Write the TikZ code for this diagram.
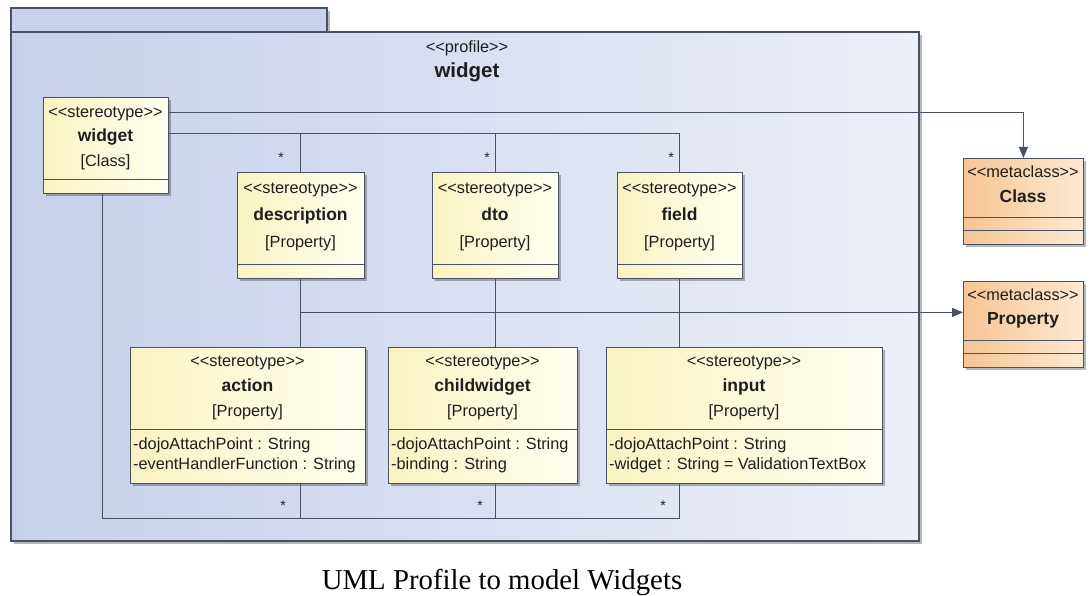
\documentclass[tikz,border=0pt]{standalone}
\usepackage{fontspec}
\setmainfont{Liberation Sans}
\newfontfamily\capfont{Liberation Serif}
\usetikzlibrary{arrows.meta,shadows}
\definecolor{pkgA}{HTML}{C7D0EA}
\definecolor{pkgB}{HTML}{ECEFF7}
\definecolor{tabc}{HTML}{CAD2ED}
\definecolor{edge}{HTML}{4A5162}
\definecolor{stA}{HTML}{F9F3C2}
\definecolor{stB}{HTML}{FFFFF0}
\definecolor{mcA}{HTML}{F6C594}
\definecolor{mcB}{HTML}{FDE9D2}
\definecolor{txt}{HTML}{1E1E1E}
\newcommand\gq[1]{<\kern0pt<#1>\kern0pt>}
\begin{document}
\begin{tikzpicture}[x=1pt,y=-1pt,
  box/.style={draw=edge, line width=0.8pt, anchor=north west, inner sep=0pt,
    general shadow={shadow xshift=3pt, shadow yshift=-3pt, fill=black, opacity=0.28}},
  stbox/.style={box, left color=stA, right color=stB},
  mcbox/.style={box, left color=mcA, right color=mcB},
  sepl/.style={draw=edge, line width=0.7pt},
  conn/.style={draw=edge, line width=1pt},
  arr/.style={conn, -{Triangle[length=11pt,width=9pt]}},
  st/.style={font=\fontsize{16.3}{19}\selectfont, text=txt, inner sep=0pt, text height=11.5pt, text depth=3pt},
  nm/.style={font=\fontsize{17.5}{21}\selectfont\bfseries, text=txt, inner sep=0pt, text height=12.5pt, text depth=3pt},
  attrtext/.style={st, anchor=west},
  star/.style={font=\fontsize{14}{15}\selectfont, text=txt, inner sep=0pt}
]
\useasboundingbox (0,0) rectangle (1090,596);
% package
\fill[black, opacity=0.28] (14,35) rectangle (922,544);
\fill[black, opacity=0.28] (327,11) rectangle (330,32);
\draw[draw=edge, line width=1.2pt, fill=tabc] (11,8) rectangle (327,32);
\draw[draw=edge, line width=1.2pt, left color=pkgA, right color=pkgB] (11,32) rectangle (919,541);
\node[st] (ptst) at (467,48) {\gq{profile}};
\node[nm, font=\fontsize{20.5}{24}\selectfont\bfseries] (ptnm) at (467,73) {widget};

% stereotype boxes
\node[stbox, minimum width=125pt, minimum height=96pt] (wid) at (43,97) {};
\draw[sepl] (43,179) -- (168,179);
\node[st] (wid1) at (105.5,113) {\gq{stereotype}};
\node[nm] (wid2) at (105.5,137) {widget};
\node[st] (wid3) at (105.5,162) {[Class]};

\node[stbox, minimum width=127pt, minimum height=106pt] (desc) at (237,172) {};
\draw[sepl] (237,264) -- (364,264);
\node[st] (desc1) at (300.5,189) {\gq{stereotype}};
\node[nm] (desc2) at (300.5,216) {description};
\node[st] (desc3) at (300.5,243) {[Property]};

\node[stbox, minimum width=126pt, minimum height=106pt] (dto) at (432,172) {};
\draw[sepl] (432,264) -- (558,264);
\node[st] (dto1) at (495,189) {\gq{stereotype}};
\node[nm] (dto2) at (495,216) {dto};
\node[st] (dto3) at (495,243) {[Property]};

\node[stbox, minimum width=125pt, minimum height=106pt] (field) at (617,172) {};
\draw[sepl] (617,264) -- (742,264);
\node[st] (field1) at (679.5,189) {\gq{stereotype}};
\node[nm] (field2) at (679.5,216) {field};
\node[st] (field3) at (679.5,243) {[Property]};

\node[stbox, minimum width=235pt, minimum height=136pt] (action) at (130,347) {};
\draw[sepl] (130,429) -- (365,429);
\node[st] (action1) at (247.5,362) {\gq{stereotype}};
\node[nm] (action2) at (247.5,387) {action};
\node[st] (action3) at (247.5,412) {[Property]};
\node[attrtext] (action4) at (133,445) {-dojoAttachPoint : String};
\node[attrtext] (action5) at (133,465) {-eventHandlerFunction : String};

\node[stbox, minimum width=189pt, minimum height=136pt] (child) at (388,347) {};
\draw[sepl] (388,429) -- (577,429);
\node[st] (child1) at (482.5,362) {\gq{stereotype}};
\node[nm] (child2) at (482.5,387) {childwidget};
\node[st] (child3) at (482.5,412) {[Property]};
\node[attrtext] (child4) at (391,445) {-dojoAttachPoint : String};
\node[attrtext] (child5) at (391,465) {-binding : String};

\node[stbox, minimum width=276pt, minimum height=136pt] (input) at (606,347) {};
\draw[sepl] (606,429) -- (882,429);
\node[st] (input1) at (744,362) {\gq{stereotype}};
\node[nm] (input2) at (744,387) {input};
\node[st] (input3) at (744,412) {[Property]};
\node[attrtext] (input4) at (609,445) {-dojoAttachPoint : String};
\node[attrtext] (input5) at (609,465) {-widget : String = ValidationTextBox};

% metaclasses
\node[mcbox, minimum width=120pt, minimum height=86pt] (cls) at (963,158) {};
\draw[sepl] (963,217) -- (1083,217);
\draw[sepl] (963,230) -- (1083,230);
\node[st] (cls1) at (1023,173) {\gq{metaclass}};
\node[nm] (cls2) at (1023,198) {Class};

\node[mcbox, minimum width=120pt, minimum height=86pt] (prop) at (963,281) {};
\draw[sepl] (963,340) -- (1083,340);
\draw[sepl] (963,353) -- (1083,353);
\node[st] (prop1) at (1023,296) {\gq{metaclass}};
\node[nm] (prop2) at (1023,320) {Property};

% connectors
\draw[arr] ([yshift=-16pt]wid.north east) -| (cls.north);
\coordinate (l2) at ([yshift=-37pt]wid.north east);
\draw[conn] (l2) -| (field.north);
\draw[conn] (l2 -| desc.north) -- (desc.north);
\draw[conn] (l2 -| dto.north) -- (dto.north);
\draw[conn] (desc.south) -- (action.north -| desc.south);
\draw[conn] (dto.south) -- (child.north -| dto.south);
\draw[conn] (field.south) -- (input.north -| field.south);
\coordinate (pa) at ([yshift=12pt]prop.west);
\draw[arr] (pa -| desc.south) -- (pa);
\coordinate (bj) at ([yshift=-35pt]input.south -| field.south);
\draw[conn] ([xshift=-3pt]wid.south) |- (bj) -- (input.south -| field.south);
\draw[conn] (action.south -| desc.south) -- (bj -| desc.south);
\draw[conn] (child.south -| dto.south) -- (bj -| dto.south);

% multiplicities
\node[star] (s1) at (281,158) {*};
\node[star] (s2) at (487,158) {*};
\node[star] (s3) at (671,158) {*};
\node[star] (s4) at (283,506) {*};
\node[star] (s5) at (480,506) {*};
\node[star] (s6) at (663,506) {*};

% caption
\node[font=\capfont\fontsize{28.8}{32}\selectfont, text=black, inner sep=0pt] (cap) at (502,582) {UML Profile to model Widgets};
\end{tikzpicture}
\end{document}
